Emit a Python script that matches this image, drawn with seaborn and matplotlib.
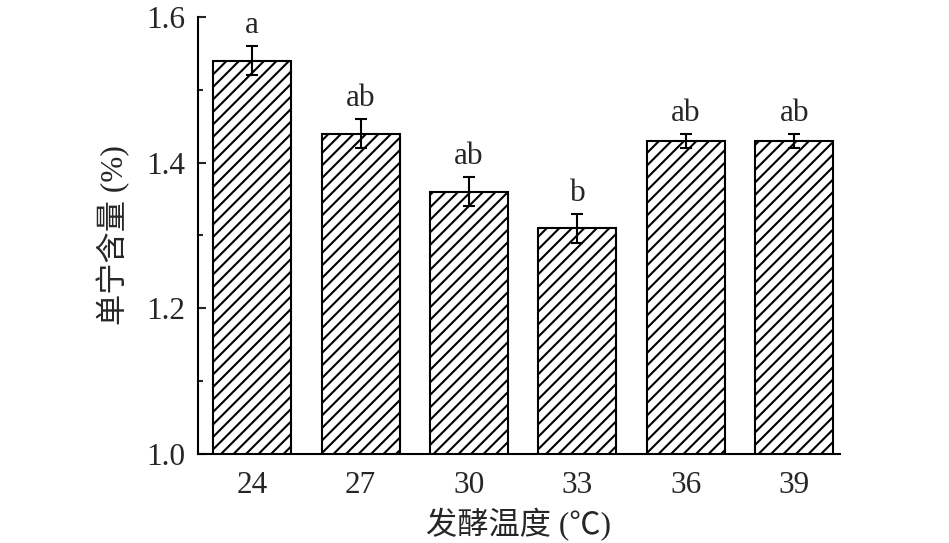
import numpy as np
import pandas as pd
import matplotlib
matplotlib.use("Agg")
import matplotlib.pyplot as plt
import seaborn as sns
from matplotlib.ticker import MultipleLocator

# data
temps = ['24', '27', '30', '33', '36', '39']
tannin = [1.54, 1.44, 1.36, 1.31, 1.43, 1.43]
err = [0.02, 0.02, 0.02, 0.02, 0.01, 0.01]
letters = ['a', 'ab', 'ab', 'b', 'ab', 'ab']

df = pd.DataFrame({'temp': temps, 'tannin': tannin})

sns.set_style("ticks")
plt.rcParams['font.family'] = ['Liberation Serif', 'Noto Sans CJK SC', 'DejaVu Sans']
plt.rcParams['hatch.linewidth'] = 1.0
plt.rcParams['hatch.color'] = 'black'

fig = plt.figure(figsize=(949 / 150, 543 / 150), dpi=150)
ax = fig.add_axes([0.2086, 0.1639, 0.885 - 0.2086, 0.9687 - 0.1639])

sns.barplot(x='temp', y='tannin', data=df, ax=ax, color='white',
            edgecolor='black', linewidth=1.0, width=0.72, errorbar=None)
for p in ax.patches:
    p.set_hatch('////')
    p.set_facecolor('white')
    p.set_edgecolor('black')

xs = np.arange(len(temps))
ax.errorbar(xs, tannin, yerr=err, fmt='none', ecolor='black',
            elinewidth=1.0, capsize=2.9, capthick=1.0)

for x, y, e, t in zip(xs, tannin, err, letters):
    ax.text(x, y + e + 0.008, t, ha='center', va='bottom', fontsize=15,
            family=['Liberation Serif'])

ax.set_ylim(1.0, 1.6)
ax.set_xlim(-0.5, 5.42)
ax.yaxis.set_minor_locator(MultipleLocator(0.1))
ax.set_yticks([1.0, 1.2, 1.4, 1.6])
ax.set_yticklabels(['1.0', '1.2', '1.4', '1.6'])

ax.tick_params(axis='y', which='major', direction='in', length=3.6, width=1.0,
               labelsize=15, pad=6)
ax.tick_params(axis='y', which='minor', direction='in', length=2.4, width=1.0)
ax.tick_params(axis='x', which='both', length=0, labelsize=15, pad=8)

for s in ['top', 'right']:
    ax.spines[s].set_visible(False)
for s in ['left', 'bottom']:
    ax.spines[s].set_linewidth(1.0)
    ax.spines[s].set_color('black')

ax.set_xlabel('发酵温度 (℃)', fontsize=15, labelpad=4)
ax.set_ylabel('单宁含量 (%)', fontsize=15, labelpad=8)

fig.savefig('out.png', dpi=150)
